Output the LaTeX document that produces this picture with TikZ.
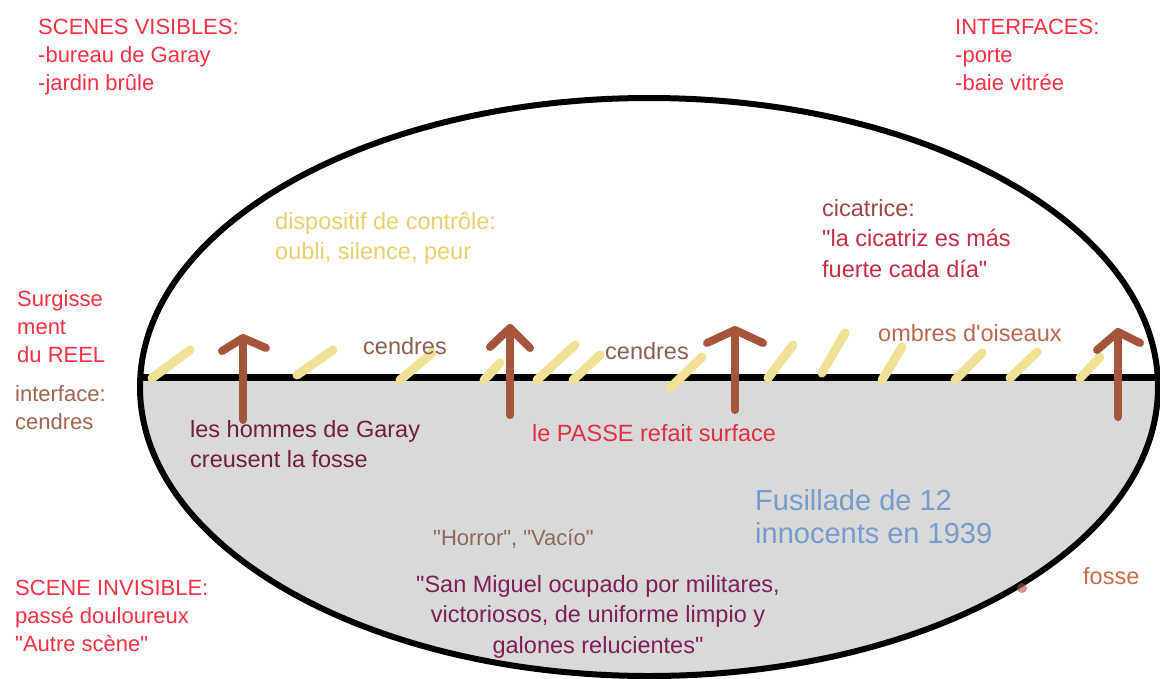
\documentclass[tikz,border=0pt]{standalone}
\usepackage{fontspec}
\setmainfont{Liberation Sans}
\newfontfamily\labelfont{Liberation Sans}
\definecolor{labelred}{RGB}{250,48,68}
\definecolor{cinderbrown}{RGB}{160,100,82}
\definecolor{ashtext}{RGB}{140,95,85}
\definecolor{controlyellow}{RGB}{232,208,110}
\definecolor{scarbrown}{RGB}{160,70,75}
\definecolor{scarred}{RGB}{200,45,70}
\definecolor{birdbrown}{RGB}{185,105,80}
\definecolor{diggermaroon}{RGB}{115,30,55}
\definecolor{pastred}{RGB}{225,45,70}
\definecolor{shootblue}{RGB}{120,155,205}
\definecolor{voidbrown}{RGB}{140,105,90}
\definecolor{soldierplum}{RGB}{125,30,85}
\definecolor{pitbrown}{RGB}{200,110,70}
\definecolor{pickbrown}{RGB}{165,85,60}
\definecolor{ashyellow}{RGB}{240,225,150}
\definecolor{hiddengray}{RGB}{217,217,217}
\usetikzlibrary{positioning}

\begin{document}
\begin{tikzpicture}[x=1pt, y=-1pt,
			every node/.style={inner sep=0pt, anchor=north west, align=left},
			outer/.style={text=labelred, font=\labelfont\fontsize{22}{28}\selectfont},
			inner/.style={font=\labelfont\fontsize{23.5}{30.5}\selectfont},
			ash/.style={draw=ashyellow, line width=9pt, line cap=round},
			pickarrow/.style={draw=pickbrown, line width=8pt, line cap=round, line join=round}
			]
			
			\useasboundingbox (0,0) rectangle (1160,678);
			\fill[white] (0,0) rectangle (1160,678);
			
			% invisible scene below the surface
			\begin{scope}
				\clip (649,387) ellipse [x radius=509, y radius=289];
				\fill[hiddengray] (0,377) rectangle (1160,678);
				\draw[line width=7pt] (0,377) -- (1160,377);
			\end{scope}
			\draw[line width=6pt] (649,387) ellipse [x radius=509, y radius=289];
			
			% ashes on the surface
			\foreach \xa/\ya/\xb/\yb in {152/378/190/350, 297/375/333/350, 400/380/432/353,
				484/380/500/363, 537/380/575/345, 573/380/600/355, 670/388/702/357,
				768/378/793/345, 822/373/845/333, 882/380/902/347, 955/380/982/353,
				1010/378/1037/352, 1080/378/1100/357}
			\draw[ash] (\xa,\ya) -- (\xb,\yb);
			
			% what comes up
			\foreach \x/\top/\bot/\lx/\ly/\rx/\ry in {243/338/420/222/351/266/348,
				510/328/415/490/347/530/348, 735/330/410/707/343/763/343,
				1118/332/417/1097/350/1140/343}
			{
				\draw[pickarrow] (\x,\bot) -- (\x,\top);
				\draw[pickarrow] (\lx,\ly) -- (\x,\top) -- (\rx,\ry);
			}
			\fill[pickbrown, opacity=0.6] (1022,588) circle (5);
			
			% outer labels
			\node[outer] (visibles) at (38,19) {SCENES VISIBLES:\\-bureau de Garay\\-jardin brûle};
			\node[outer] (interfaces) at (955,19) {INTERFACES:\\-porte\\-baie vitrée};
			\node[outer] (surgissement) at (17,290) {Surgisse\\ment\\du REEL};
			\node[outer, text=cinderbrown] (interface) at (15,385) {interface:\\cendres};
			\node[outer] (invisible) at (15,580) {SCENE INVISIBLE:\\passé douloureux\\"Autre scène"};
			
			% inside the visible scene
			\node[inner, text=controlyellow] (controle) at (275,212) {dispositif de contrôle:\\oubli, silence, peur};
			\node[inner, text=scarred] (cicatrice) at (822,199) {\textcolor{scarbrown}{cicatrice:}\\"la cicatriz es más\\fuerte cada día"};
			\node[inner, text=ashtext] (cendresA) at (363,337) {cendres};
			\node[inner, text=ashtext] (cendresB) at (605,342) {cendres};
			\node[inner, text=birdbrown] (oiseaux) at (878,324) {ombres d'oiseaux};
			
			% inside the invisible scene
			\node[inner, text=diggermaroon] (hommes) at (190,420) {les hommes de Garay\\creusent la fosse};
			\node[inner, text=pastred] (passe) at (532,424) {le PASSE refait surface};
			\node[text=shootblue, font=\labelfont\fontsize{29}{33}\selectfont] (fusillade) at (755,489) {Fusillade de 12\\innocents en 1939};
			\node[text=voidbrown, font=\labelfont\fontsize{22}{28}\selectfont] (horror) at (433,529) {"Horror", "Vacío"};
			\node[inner, text=soldierplum, align=center, anchor=north] (sanmiguel) at (598,575) {"San Miguel ocupado por militares,\\victoriosos, de uniforme limpio y\\galones relucientes"};
			\node[inner, text=pitbrown] (fosse) at (1083,567) {fosse};
			
		\end{tikzpicture}
\end{document}
